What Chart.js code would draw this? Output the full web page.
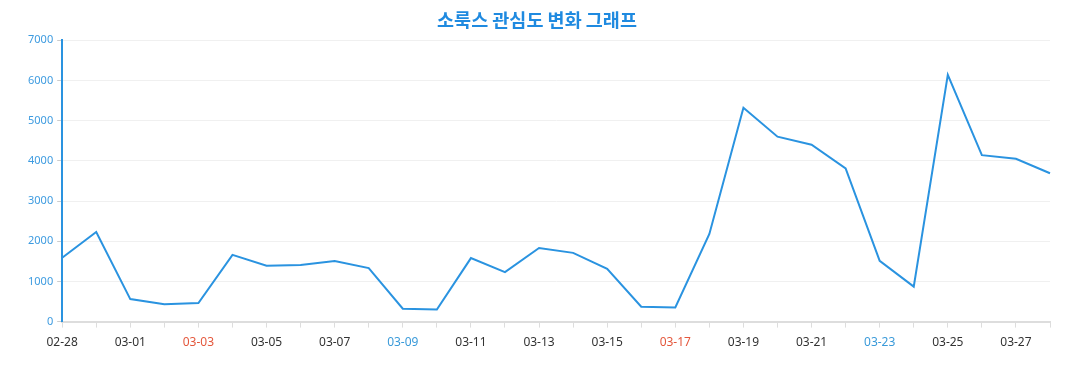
<!DOCTYPE html>
<html>
<head>
<meta charset="utf-8">
<script src="https://cdn.jsdelivr.net/npm/chart.js@4"></script>
<style>
  body { margin: 0; background: #fff; }
</style>
</head>
<body>
<canvas id="trend-chart" width="1077" height="390"></canvas>
<script>
var dates = ["02-28", "02-29", "03-01", "03-02", "03-03", "03-04", "03-05", "03-06", "03-07", "03-08",
    "03-09", "03-10", "03-11", "03-12", "03-13", "03-14", "03-15", "03-16", "03-17", "03-18",
    "03-19", "03-20", "03-21", "03-22", "03-23", "03-24", "03-25", "03-26", "03-27", "03-28"];
var interest = [1590, 2230, 560, 430, 460, 1660, 1390, 1410, 1510, 1330,
    320, 300, 1580, 1230, 1830, 1710, 1310, 370, 350, 2180,
    5320, 4600, 4400, 3810, 1510, 870, 6140, 4140, 4050, 3690];
var red_days = ["03-03", "03-17"];
var blue_days = ["03-09", "03-23"];
var y_max = 7000;
var y_step = 1000;

var ctx = document.getElementById("trend-chart").getContext("2d");
Chart.defaults.font.family = "'Noto Sans', 'Noto Sans CJK KR', sans-serif";

var chart = new Chart(ctx, {
    type: "line",
    data: {
        labels: dates,
        datasets: [{
            label: "관심도",
            data: interest,
            borderColor: "#2a93e0",
            borderWidth: 2,
            pointRadius: 0,
            tension: 0,
            fill: false,
        }]
    },
    options: {
        responsive: false,
        animation: false,
        layout: { padding: { left: 24, right: 27, top: 0, bottom: 32 } },
        plugins: {
            legend: { display: false },
            tooltip: { enabled: false },
            title: {
                display: true,
                text: "소룩스 관심도 변화 그래프",
                color: "#1f8ae0",
                font: { size: 18.5, weight: "bold", family: "'Noto Sans CJK KR', sans-serif" },
                padding: { top: 9, bottom: 9 },
            },
        },
        scales: {
            x: {
                offset: false,
                grid: {
                    drawOnChartArea: false,
                    drawTicks: true,
                    tickLength: 6,
                    color: "#dddddd",
                },
                border: { color: "#dddddd", width: 2 },
                ticks: {
                    autoSkip: false,
                    maxRotation: 0,
                    padding: 8,
                    font: { size: 12 },
                    color: function (c) {
                        let d = dates[c.index];
                        if (red_days.indexOf(d) >= 0) return "#e4573c";
                        if (blue_days.indexOf(d) >= 0) return "#3a9ad9";
                        return "#333333";
                    },
                    callback: function (value, index) {
                        return index % 2 === 0 ? dates[index] : "";
                    },
                },
            },
            y: {
                min: 0,
                max: y_max,
                grid: {
                    color: "#f0f0f0",
                    tickLength: 5,
                    tickColor: "#cccccc",
                },
                border: { color: "#2a93e0", width: 2 },
                ticks: {
                    stepSize: y_step,
                    padding: 4,
                    color: "#3d9be0",
                    font: { size: 11 },
                    callback: function (value) {
                        return String(value);
                    },
                },
            },
        },
    },
});
</script>
</body>
</html>
